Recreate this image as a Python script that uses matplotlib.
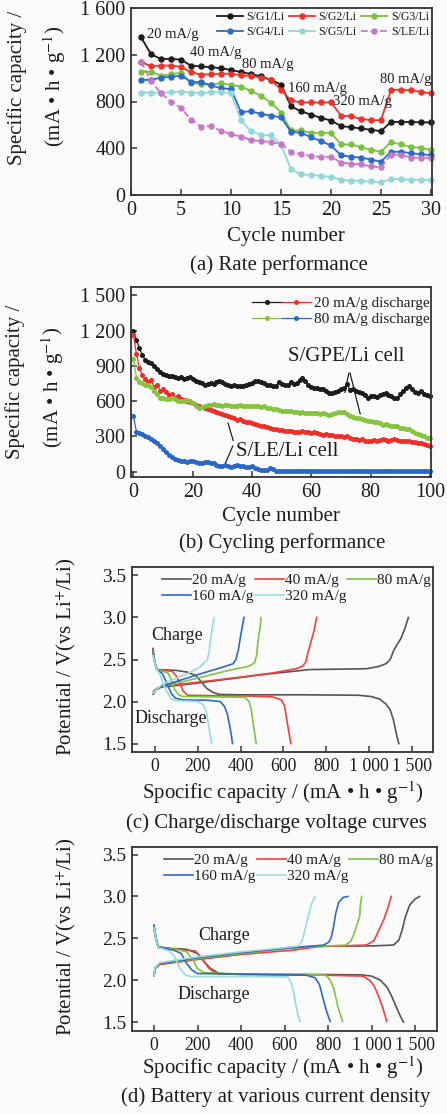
"""Four-panel battery figure: rate test, cycling, and two sets of voltage profiles.
Writes out.png (447x1114 px)."""
import matplotlib
matplotlib.use("Agg")
import matplotlib.pyplot as plt
from matplotlib.legend_handler import HandlerTuple

W, H = 447, 1114
INK = "#1e1e1e"
BG = "#fbfbfb"

# ---------------- (a) rate performance, cycles 1..30 ----------------
CYCLES_A = list(range(1, 31))
RATE_G1 = [1350, 1205, 1163, 1165, 1158, 1106, 1100, 1093, 1085, 1070,
           1052, 1035, 1015, 985, 945, 758, 716, 688, 660, 637,
           590, 580, 569, 558, 546, 625, 625, 625, 621, 621]
RATE_G2 = [1140, 1100, 1108, 1108, 1095, 1050, 1030, 1033, 1038, 1038,
           1024, 1018, 1005, 988, 900, 809, 792, 792, 792, 792,
           679, 673, 651, 640, 640, 900, 900, 896, 882, 870]
RATE_G3 = [1055, 1055, 1021, 1033, 1047, 957, 951, 942, 957, 942,
           928, 890, 850, 790, 705, 552, 552, 532, 532, 532,
           433, 433, 410, 385, 371, 452, 433, 410, 405, 385]
RATE_G4 = [985, 985, 1004, 1013, 1019, 970, 965, 937, 914, 906,
           710, 716, 694, 679, 664, 541, 532, 495, 461, 424,
           340, 328, 320, 303, 286, 368, 371, 357, 348, 342]
RATE_G5 = [877, 877, 872, 880, 885, 877, 872, 880, 880, 872,
           640, 545, 515, 510, 430, 220, 178, 170, 164, 156,
           130, 121, 121, 116, 108, 136, 136, 130, 130, 127]
RATE_LE = [1140, 975, 870, 800, 744, 645, 585, 588, 550, 520,
           500, 470, 460, 455, 435, 370, 350, 334, 326, 326,
           278, 268, 262, 244, 238, 345, 345, 320, 320, 315]
RATE_STEPS = ["20 mA/g", "40 mA/g", "80 mA/g", "160 mA/g", "320 mA/g", "80 mA/g"]

# ---------------- (b) cycling performance, cycles 0..100 ----------------
CYCLES_B = list(range(0, 101))
GPE_20 = [1200, 1120, 1050, 990, 950, 935, 920, 900, 870, 850,
          830, 820, 815, 810, 805, 800, 805, 790, 800, 805,
          790, 775, 760, 750, 740, 745, 750, 745, 760, 775,
          760, 745, 735, 730, 735, 725, 730, 725, 735, 745,
          755, 770, 775, 760, 750, 740, 735, 725, 730, 760,
          745, 735, 740, 760, 745, 750, 780, 800, 770, 740,
          720, 715, 710, 700, 705, 690, 670, 665, 675, 685,
          700, 710, 745, 695, 700, 685, 680, 670, 650, 630,
          640, 645, 635, 650, 660, 665, 650, 640, 630, 625,
          660, 690, 710, 730, 700, 680, 670, 690, 660, 650,
          640]
LE_20 = [1160, 1000, 880, 820, 790, 760, 780, 720, 740, 690,
         700, 680, 650, 660, 630, 640, 620, 610, 600, 590,
         580, 570, 560, 550, 540, 530, 525, 520, 505, 500,
         490, 480, 470, 465, 455, 440, 445, 430, 425, 420,
         410, 405, 395, 390, 385, 380, 375, 365, 360, 355,
         355, 350, 345, 350, 340, 340, 335, 345, 340, 335,
         330, 335, 325, 320, 315, 320, 310, 315, 305, 300,
         305, 295, 300, 290, 280, 275, 270, 275, 265, 260,
         265, 270, 265, 270, 275, 270, 265, 270, 275, 270,
         265, 260, 265, 260, 255, 250, 245, 240, 235, 225,
         215]
GPE_80 = [960, 800, 760, 750, 735, 740, 720, 690, 660, 630,
          625, 620, 615, 625, 620, 605, 600, 605, 610, 600,
          580, 560, 545, 550, 560, 565, 570, 575, 570, 565,
          560, 565, 570, 560, 555, 560, 565, 560, 555, 560,
          555, 560, 555, 550, 555, 545, 540, 535, 530, 525,
          520, 515, 520, 515, 510, 505, 500, 505, 500, 495,
          500, 495, 495, 490, 495, 490, 485, 490, 495, 505,
          510, 505, 490, 475, 465, 460, 455, 450, 440, 435,
          430, 425, 420, 410, 400, 405, 395, 390, 385, 385,
          375, 370, 365, 360, 345, 330, 320, 310, 300, 290,
          285]
LE_80 = [470, 340, 330, 320, 300, 295, 280, 265, 245, 220,
         195, 170, 145, 125, 110, 100, 95, 90, 85, 88,
         90, 80, 70, 78, 85, 80, 72, 70, 60, 45,
         50, 58, 48, 42, 50, 55, 50, 45, 42, 40,
         45, 35, 22, 18, 15, 18, 28, 25, 5, 3,
         3, 2, 3, 3, 2, 3, 3, 2, 3, 3,
         2, 3, 3, 2, 3, 3, 2, 3, 3, 2,
         3, 3, 2, 3, 3, 2, 3, 3, 2, 3,
         3, 2, 3, 3, 2, 3, 3, 2, 3, 3,
         2, 3, 3, 2, 3, 3, 2, 3, 3, 2,
         3]

# ---------------- (c) charge/discharge curves: (capacity, V) ----------------
RATES = ["20 mA/g", "40 mA/g", "80 mA/g", "160 mA/g", "320 mA/g"]
C_DIS_20 = [(-10, 2.63), (0, 2.45), (8, 2.38), (100, 2.37), (150, 2.35), (190, 2.31),
            (215, 2.24), (240, 2.16), (270, 2.11), (300, 2.085), (400, 2.08), (700, 2.08),
            (950, 2.075), (1010, 2.06), (1050, 2.03), (1080, 1.97), (1100, 1.90),
            (1115, 1.78), (1125, 1.66), (1135, 1.55), (1140, 1.50)]
C_CHG_20 = [(-8, 2.09), (5, 2.14), (25, 2.17), (100, 2.19), (200, 2.22), (350, 2.27),
            (500, 2.32), (650, 2.36), (720, 2.38), (850, 2.385), (990, 2.39), (1050, 2.42),
            (1080, 2.45), (1100, 2.50), (1115, 2.60), (1130, 2.67), (1150, 2.75),
            (1170, 2.88), (1185, 3.0)]
C_DIS_40 = [(-10, 2.60), (0, 2.45), (8, 2.38), (80, 2.36), (100, 2.30), (115, 2.22),
            (130, 2.13), (150, 2.075), (250, 2.07), (450, 2.065), (550, 2.055), (590, 2.02),
            (605, 1.95), (615, 1.80), (625, 1.65), (635, 1.50)]
C_CHG_40 = [(-8, 2.12), (10, 2.16), (30, 2.18), (200, 2.23), (400, 2.29), (550, 2.34),
            (660, 2.39), (690, 2.42), (705, 2.47), (715, 2.58), (728, 2.70), (742, 2.83),
            (756, 3.0)]
C_DIS_80 = [(-10, 2.58), (0, 2.45), (10, 2.38), (60, 2.34), (75, 2.26), (90, 2.15),
            (110, 2.08), (130, 2.06), (300, 2.055), (420, 2.05), (440, 2.00), (450, 1.90),
            (460, 1.72), (468, 1.58), (473, 1.50)]
C_CHG_80 = [(-8, 2.10), (10, 2.15), (40, 2.18), (200, 2.28), (360, 2.38), (440, 2.42),
            (465, 2.46), (475, 2.55), (480, 2.68), (485, 2.78), (492, 2.90), (496, 3.0)]
C_DIS_160 = [(-10, 2.57), (0, 2.45), (10, 2.38), (35, 2.33), (55, 2.22), (75, 2.10),
             (95, 2.04), (130, 2.02), (250, 2.015), (305, 2.00), (325, 1.94), (338, 1.85),
             (350, 1.70), (358, 1.58), (362, 1.50)]
C_CHG_160 = [(-10, 2.09), (10, 2.15), (40, 2.19), (200, 2.32), (330, 2.42), (365, 2.45),
             (378, 2.50), (390, 2.62), (400, 2.78), (410, 2.92), (416, 3.0)]
C_DIS_320 = [(-10, 2.55), (0, 2.45), (5, 2.40), (25, 2.31), (40, 2.20), (55, 2.12),
             (75, 2.03), (100, 2.01), (200, 2.00), (225, 1.96), (240, 1.88), (250, 1.72),
             (258, 1.60), (265, 1.50)]
C_CHG_320 = [(-8, 2.10), (10, 2.15), (30, 2.20), (100, 2.28), (150, 2.33), (210, 2.41),
             (245, 2.50), (253, 2.60), (260, 2.75), (268, 2.88), (276, 3.0)]

# ---------------- (d) battery at various current density ----------------
D_DIS_20 = [(0, 2.66), (10, 2.50), (20, 2.40), (80, 2.38), (150, 2.37), (200, 2.32),
            (230, 2.22), (260, 2.14), (300, 2.08), (400, 2.07), (700, 2.07), (950, 2.065),
            (1000, 2.05), (1040, 2.00), (1070, 1.92), (1090, 1.82), (1110, 1.70),
            (1130, 1.58), (1146, 1.50)]
D_CHG_20 = [(0, 2.05), (5, 2.14), (25, 2.19), (200, 2.25), (365, 2.30), (500, 2.35),
            (595, 2.38), (700, 2.40), (825, 2.41), (1000, 2.41), (1100, 2.42), (1125, 2.48),
            (1140, 2.60), (1155, 2.76), (1175, 2.90), (1200, 2.97), (1220, 3.0)]
D_DIS_40 = [(0, 2.60), (10, 2.48), (20, 2.39), (100, 2.37), (190, 2.35), (220, 2.26),
            (250, 2.15), (285, 2.08), (400, 2.07), (700, 2.065), (960, 2.05), (990, 2.00),
            (1010, 1.94), (1030, 1.82), (1050, 1.68), (1069, 1.51)]
D_CHG_40 = [(0, 2.05), (5, 2.14), (25, 2.19), (200, 2.25), (365, 2.30), (640, 2.36),
            (750, 2.40), (975, 2.42), (1010, 2.47), (1030, 2.58), (1055, 2.72),
            (1075, 2.87), (1090, 3.0)]
D_DIS_80 = [(0, 2.62), (10, 2.48), (20, 2.39), (100, 2.37), (150, 2.34), (180, 2.24),
            (200, 2.14), (230, 2.09), (400, 2.075), (700, 2.07), (790, 2.06), (810, 2.00),
            (828, 1.88), (845, 1.68), (866, 1.51)]
D_CHG_80 = [(0, 2.05), (5, 2.14), (25, 2.20), (200, 2.26), (400, 2.32), (650, 2.39),
            (880, 2.42), (905, 2.47), (920, 2.56), (932, 2.66), (945, 2.76), (948, 2.90),
            (954, 3.0)]
D_DIS_160 = [(0, 2.64), (10, 2.48), (20, 2.39), (90, 2.36), (125, 2.32), (150, 2.20),
             (175, 2.12), (200, 2.08), (400, 2.075), (700, 2.06), (740, 2.03), (760, 1.95),
             (775, 1.80), (790, 1.65), (809, 1.51)]
D_CHG_160 = [(0, 2.05), (5, 2.15), (25, 2.20), (200, 2.27), (400, 2.33), (600, 2.38),
             (780, 2.42), (805, 2.46), (815, 2.52), (825, 2.64), (835, 2.80), (848, 2.93),
             (870, 2.99), (891, 3.0)]
D_DIS_320 = [(0, 2.63), (10, 2.48), (20, 2.39), (70, 2.35), (95, 2.28), (120, 2.14),
             (145, 2.06), (170, 2.045), (400, 2.045), (615, 2.04), (630, 1.97), (642, 1.85),
             (652, 1.70), (662, 1.58), (671, 1.51)]
D_CHG_320 = [(0, 2.05), (5, 2.15), (25, 2.21), (200, 2.28), (400, 2.34), (600, 2.39),
             (665, 2.41), (680, 2.47), (690, 2.56), (700, 2.68), (712, 2.80), (725, 2.92),
             (740, 3.0)]

CAP_TICKS = [0, 200, 400, 600, 800, 1000, 1200]
CAP_TICKLABELS = ["0", "200", "400", "600", "800", "1 000", "1 500"]
V_TICKS = [1.5, 2.0, 2.5, 3.0, 3.5]

A_COLORS = {"S/G1/Li": "#1c1c1c", "S/G2/Li": "#f0322c", "S/G3/Li": "#7cc142",
            "S/G4/Li": "#2c6cc8", "S/G5/Li": "#92d8d8", "S/LE/Li": "#c878c8"}
V_COLORS = ["#555555", "#f2403a", "#7ec446", "#3068c8", "#9adcdc"]
CAP_LABEL = r"Spocific capacity / (mA • h • g$^{-1}$)"
V_LABEL = r"Potential / V(vs Li$^{+}$/Li)"

plt.rcParams.update({
    "font.family": ["Liberation Serif", "DejaVu Serif"],
    "mathtext.fontset": "stix",
    "axes.edgecolor": "#333333", "axes.linewidth": 1.3,
    "xtick.direction": "in", "ytick.direction": "in",
    "xtick.major.size": 4, "ytick.major.size": 4,
    "xtick.major.width": 1.1, "ytick.major.width": 1.1,
    "xtick.color": "#333333", "ytick.color": "#333333",
    "xtick.labelcolor": INK, "ytick.labelcolor": INK, "text.color": INK,
})


def box(l, t, r, b):
    """axes rect from pixel edges"""
    return [l / W, 1 - b / H, (r - l) / W, (b - t) / H]


def ftext(fig, px, py, s, **kw):
    fig.text(px / W, 1 - py / H, s, ha="center", va="center", **kw)


def style(ax, fs):
    ax.set_facecolor(BG)
    ax.tick_params(labelsize=fs, pad=4)


def panel_rate(fig):
    ax = fig.add_axes(box(131, 8, 432, 195))
    style(ax, 14.5)
    series = [("S/G1/Li", RATE_G1, "-"), ("S/G2/Li", RATE_G2, "-"), ("S/G3/Li", RATE_G3, "-"),
              ("S/G4/Li", RATE_G4, "-"), ("S/G5/Li", RATE_G5, "-"), ("S/LE/Li", RATE_LE, "--")]
    h = {}
    for name, ys, ls in series:
        h[name], = ax.plot(CYCLES_A, ys, color=A_COLORS[name], ls=ls, lw=1.3,
                           marker="o", ms=3.6, label=name, clip_on=False)
    order = ["S/G1/Li", "S/G4/Li", "S/G2/Li", "S/G5/Li", "S/G3/Li", "S/LE/Li"]
    ax.legend([h[k] for k in order], order, ncol=3, loc="upper right",
              bbox_to_anchor=(0.99, 0.985), frameon=False, fontsize=8.6,
              handlelength=2.2, handletextpad=0.3, columnspacing=0.35,
              borderaxespad=0, borderpad=0, labelspacing=0.3)
    # current-density step labels
    for s, (x, y) in zip(RATE_STEPS, [(1.6, 1375), (5.9, 1222), (11.1, 1120),
                                      (15.7, 908), (20.2, 798), (24.9, 985)]):
        ax.text(x, y, s, fontsize=10.5, ha="left", va="center")
    ax.set_xlim(0, 30.1)
    ax.set_ylim(0, 1600)
    ax.set_xticks([0, 5, 10, 15, 20, 25, 30])
    ax.set_yticks([0, 400, 800, 1200, 1600])
    ax.set_yticklabels(["0", "400", "800", "1 200", "1 600"])
    ftext(fig, 17, 88, "Specific capacity /", rotation=90, fontsize=15)
    ftext(fig, 55, 86, r"(mA • h • g$^{-1}$)", rotation=90, fontsize=15)
    ftext(fig, 286, 237, "Cycle number", fontsize=15)
    ftext(fig, 279, 265, "(a) Rate performance", fontsize=15)


def panel_cycling(fig):
    ax = fig.add_axes(box(130.5, 287, 431.5, 477))
    style(ax, 14.5)
    kw = dict(lw=0.9, marker="o", ms=2.6, clip_on=False)
    l_gpe20, = ax.plot(CYCLES_B, GPE_20, color="#1c1c1c", **kw)
    l_le20, = ax.plot(CYCLES_B, LE_20, color="#ee2f2a", **kw)
    l_gpe80, = ax.plot(CYCLES_B, GPE_80, color="#86c440", **kw)
    l_le80, = ax.plot(CYCLES_B, LE_80, color="#2a68c8", **kw)
    ax.legend([(l_gpe20, l_le20), (l_gpe80, l_le80)],
              ["20 mA/g discharge", "80 mA/g discharge"],
              handler_map={tuple: HandlerTuple(ndivide=None, pad=0)},
              loc="upper right", bbox_to_anchor=(0.995, 0.95), frameon=False,
              fontsize=11, handlelength=3.9, handletextpad=0.2,
              borderaxespad=0, borderpad=0, labelspacing=0.15)
    ax.text(71.6, 981, "S/GPE/Li cell", fontsize=15, ha="center", va="center")
    for end in [(71.1, 650), (76.7, 466)]:
        ax.annotate("", xy=end, xytext=(72.8, 862),
                    arrowprops=dict(arrowstyle="-", color=INK, lw=0.9))
    ax.text(52, 168, "S/LE/Li cell", fontsize=15, ha="center", va="center")
    for end in [(31.6, 437), (30.7, 55)]:
        ax.annotate("", xy=end, xytext=(33.9, 242),
                    arrowprops=dict(arrowstyle="-", color=INK, lw=0.9))
    ax.set_xlim(-1, 100.5)
    ax.set_ylim(-45, 1570)
    ax.set_xticks([0, 20, 40, 60, 80, 100])
    ax.set_yticks([0, 300, 600, 900, 1200, 1500])
    ax.set_yticklabels(["0", "300", "600", "900", "1 200", "1 500"])
    ftext(fig, 15, 382, "Specific capacity /", rotation=90, fontsize=15)
    ftext(fig, 53, 387, r"(mA • h • g$^{-1}$)", rotation=90, fontsize=15)
    ftext(fig, 281, 517, "Cycle number", fontsize=15)
    ftext(fig, 282, 543, "(b) Cycling performance", fontsize=15)


def voltage_panel(fig, rect, curves, xlim, ylim, anchor, txt_pos, ylab_y, xlab_y, cap_y, caption):
    ax = fig.add_axes(box(*rect))
    style(ax, 14)
    ax.tick_params(axis="x", labelsize=12.8)
    handles = []
    for (dis, chg), col, lab in zip(curves, V_COLORS, RATES):
        ln, = ax.plot(*zip(*dis), color=col, lw=1.2, label=lab)
        ax.plot(*zip(*chg), color=col, lw=1.2)
        handles.append(ln)
    order = [0, 3, 1, 4, 2]
    ax.legend([handles[i] for i in order], [RATES[i] for i in order], ncol=3,
              loc="upper left", bbox_to_anchor=anchor, frameon=False, fontsize=11,
              handlelength=1.9, handletextpad=0.05, columnspacing=0.1,
              borderaxespad=0, borderpad=0, labelspacing=0.15)
    (cx, cy), (dx, dy) = txt_pos
    ax.text(cx, cy, "Charge", fontsize=13, ha="center", va="center")
    ax.text(dx, dy, "Discharge", fontsize=13, ha="center", va="center")
    ax.set_xlim(*xlim)
    ax.set_ylim(*ylim)
    ax.set_xticks(CAP_TICKS)
    ax.set_xticklabels(CAP_TICKLABELS)
    ax.set_yticks(V_TICKS)
    ax.set_yticklabels([f"{v:.1f}" for v in V_TICKS])
    ftext(fig, 66, ylab_y, V_LABEL, rotation=90, fontsize=15)
    ftext(fig, 283, xlab_y, CAP_LABEL, fontsize=15)
    ftext(fig, 276, cap_y, caption, fontsize=15)


def main():
    fig = plt.figure(figsize=(W / 100, H / 100), dpi=100, facecolor=BG)
    panel_rate(fig)
    panel_cycling(fig)
    voltage_panel(fig, (132, 567, 433, 752),
                  [(C_DIS_20, C_CHG_20), (C_DIS_40, C_CHG_40), (C_DIS_80, C_CHG_80),
                   (C_DIS_160, C_CHG_160), (C_DIS_320, C_CHG_320)],
                  (-108, 1300), (1.40, 3.60), (0.10, 0.965),
                  ((105, 2.79), (74, 1.80)), 657, 793, 823,
                  "(c) Charge/discharge voltage curves")
    voltage_panel(fig, (132, 847, 437, 1031),
                  [(D_DIS_20, D_CHG_20), (D_DIS_40, D_CHG_40), (D_DIS_80, D_CHG_80),
                   (D_DIS_160, D_CHG_160), (D_DIS_320, D_CHG_320)],
                  (-101, 1300), (1.395, 3.59), (0.105, 0.965),
                  ((322, 2.54), (273, 1.83)), 937, 1068, 1097,
                  "(d) Battery at various current density")
    fig.savefig("out.png", dpi=100, facecolor=BG)


if __name__ == "__main__":
    main()
